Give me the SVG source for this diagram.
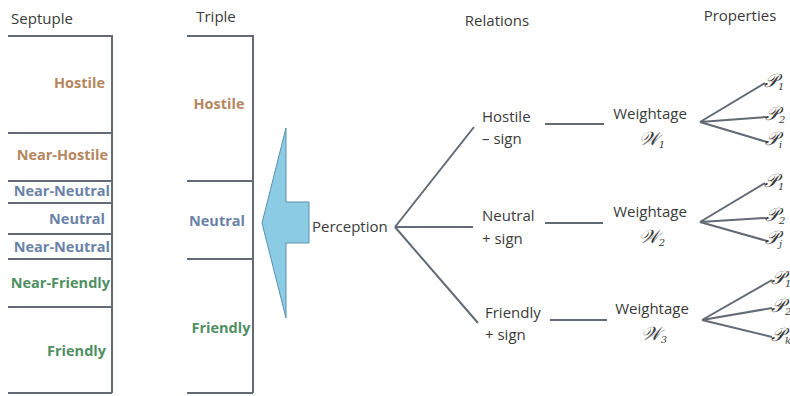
<svg xmlns="http://www.w3.org/2000/svg" width="790" height="396" viewBox="0 0 790 396">
<style>
text{font-family:"Open Sans","Liberation Sans",sans-serif;font-size:15px;fill:#3a3a3a}
.h{fill:#b5865e;font-weight:bold;font-size:14.5px}
.n{fill:#6a82a8;font-weight:bold;font-size:14.5px}
.f{fill:#4f8f62;font-weight:bold;font-size:14.5px}
.r{text-anchor:end}
.c{text-anchor:middle}
.m{font-family:"DejaVu Serif",serif;font-style:italic;font-size:19px}
.s{font-size:10px}
.ln{stroke:#626a74;stroke-width:2;fill:none}
.fn{stroke:#626a74;stroke-width:2;fill:none}
</style>
<rect width="790" height="396" fill="#fff"/>
<g id="septuple">
<text x="42" y="24" class="c">Septuple</text>
<path class="ln" d="M8 36H112V393M8 133H112M8 181H112M8 203H112M8 234H112M8 259H112M8 307H112M8 393H112"/>
<text x="105" y="88" class="h r">Hostile</text>
<text x="108" y="160" class="h r">Near-Hostile</text>
<text x="110" y="196" class="n r">Near-Neutral</text>
<text x="105" y="224" class="n r">Neutral</text>
<text x="110" y="252" class="n r">Near-Neutral</text>
<text x="110" y="288" class="f r">Near-Friendly</text>
<text x="106" y="356" class="f r">Friendly</text>
</g>
<g id="triple">
<text x="216" y="22" class="c">Triple</text>
<path class="ln" d="M187 36H253V393M187 181H253M187 259H253M187 393H253"/>
<text x="219" y="109" class="h c">Hostile</text>
<text x="217" y="226" class="n c">Neutral</text>
<text x="221" y="333" class="f c">Friendly</text>
</g>
<g id="arrow">
<path d="M262 223L286 128V202H309V243H286V318Z" fill="#8ccbe4" stroke="#5a8fb0" stroke-width="1"/>
</g>
<g id="perception">
<text x="312" y="232">Perception</text>
</g>
<g id="titles">
<text x="497" y="26" class="c">Relations</text>
<text x="740" y="21" class="c">Properties</text>
</g>
<g id="connectors">
<path class="ln" d="M395 227L474 127M395 227H473M395 227L478 323"/>
<path class="ln" d="M545 124H604M545 223H603M550 320H607"/>
<path class="fn" d="M700 122L765 83M700 122L766 117M700 122L767 142"/>
<path class="fn" d="M700 222L765 183M700 222L766 218M700 222L767 241"/>
<path class="fn" d="M702 320L772 280M702 320L772 308M702 320L772 337"/>
</g>
<g id="hostile-rel"><text x="482" y="122">Hostile</text><text x="482" y="144">– sign</text></g>
<g id="neutral-rel"><text x="482" y="221">Neutral</text><text x="482" y="244">+ sign</text></g>
<g id="friendly-rel"><text x="485" y="318">Friendly</text><text x="485" y="340">+ sign</text></g>
<g id="w1"><text x="650" y="119" class="c">Weightage</text><text x="652" y="145" class="m c">𝒲<tspan class="s" dy="3">1</tspan></text></g>
<g id="w2"><text x="650" y="217" class="c">Weightage</text><text x="652" y="243" class="m c">𝒲<tspan class="s" dy="3">2</tspan></text></g>
<g id="w3"><text x="652" y="314" class="c">Weightage</text><text x="654" y="340" class="m c">𝒲<tspan class="s" dy="3">3</tspan></text></g>
<g id="p1"><text x="764" y="87" class="m">𝒫<tspan class="s" dy="3">1</tspan></text><text x="765" y="120" class="m">𝒫<tspan class="s" dy="3">2</tspan></text><text x="765" y="145" class="m">𝒫<tspan class="s" dy="3">i</tspan></text></g>
<g id="p2"><text x="764" y="187" class="m">𝒫<tspan class="s" dy="3">1</tspan></text><text x="765" y="221" class="m">𝒫<tspan class="s" dy="3">2</tspan></text><text x="765" y="244" class="m">𝒫<tspan class="s" dy="3">j</tspan></text></g>
<g id="p3"><text x="771" y="284" class="m">𝒫<tspan class="s" dy="3">1</tspan></text><text x="771" y="312" class="m">𝒫<tspan class="s" dy="3">2</tspan></text><text x="771" y="341" class="m">𝒫<tspan class="s" dy="3">k</tspan></text></g>
</svg>
